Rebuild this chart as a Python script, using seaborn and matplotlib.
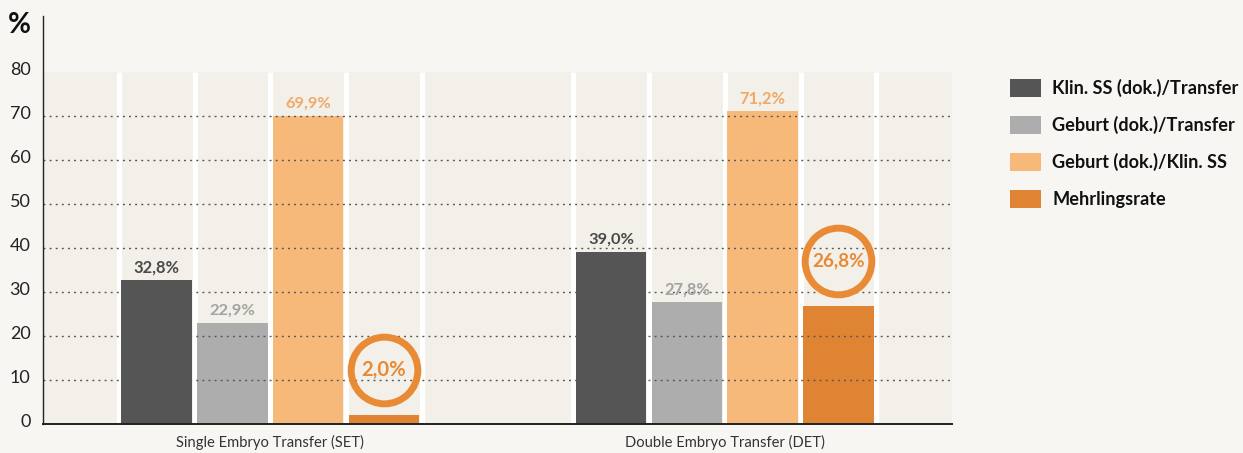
import matplotlib
matplotlib.use("Agg")
import matplotlib.pyplot as plt
import matplotlib.transforms as mtransforms
import seaborn as sns
import pandas as pd

# ---- data ----
groups = ["Single Embryo Transfer (SET)", "Double Embryo Transfer (DET)"]
series = ["Klin. SS (dok.)/Transfer", "Geburt (dok.)/Transfer",
          "Geburt (dok.)/Klin. SS", "Mehrlingsrate"]
set_values = [32.8, 22.9, 69.9, 2.0]
det_values = [39.0, 27.8, 71.2, 26.8]
value_labels_set = ["32,8%", "22,9%", "69,9%", "2,0%"]
value_labels_det = ["39,0%", "27,8%", "71,2%", "26,8%"]
y_ticks = [0, 10, 20, 30, 40, 50, 60, 70, 80]

bar_colors = ["#555555", "#adadad", "#f6b97a", "#df8433"]
label_colors = ["#4a4a4a", "#a3a3a3", "#f0a968", "#e88a35"]
ring_color = "#e98b36"
fig_bg = "#f7f6f2"
col_bg = "#f3f0e9"

rows = []
for g, vals in zip(groups, [set_values, det_values]):
    for s, v in zip(series, vals):
        rows.append({"group": g, "series": s, "value": v})
df = pd.DataFrame(rows)

sns.set_theme(style="white")
FONT = ["Lato", "DejaVu Sans"]
plt.rcParams["font.family"] = FONT

W, H = 1243, 453
fig = plt.figure(figsize=(W / 100, H / 100), dpi=100, facecolor=fig_bg)
ax = fig.add_axes([43 / W, (H - 424) / H, 909 / W, (424 - 16) / H])
ax.set_facecolor(fig_bg)

slot = 1 / 6
sns.barplot(data=df, x="group", y="value", hue="series", order=groups,
            hue_order=series, palette=bar_colors, saturation=1,
            width=4 * slot, gap=5 / 75.67, ax=ax, zorder=3, legend=True,
            linewidth=0, edgecolor="none")

ymax = 92.7
ax.set_xlim(-0.5, 1.5)
ax.set_ylim(0, ymax)

# background panel and white separators
ax.axhspan(0, 80, color=col_bg, zorder=0, lw=0)
seps = []
for c in range(len(groups)):
    for k in (-2, -1, 0, 1, 2):
        seps.append(c + k * slot)
ax.vlines(seps, 0, 80, color="white", lw=3.7, zorder=1)

# dotted gridlines
for yv in y_ticks[1:-1]:
    ax.axhline(yv, color="#555555", lw=1.0, dashes=(1.4, 3.0), zorder=4)

renderer = fig.canvas.get_renderer()


def fit(text, target_px):
    w = text.get_window_extent(renderer).width
    if w > 0:
        text.set_fontsize(text.get_fontsize() * target_px / w)


# value labels and rings
for i, cont in enumerate(ax.containers):
    for j, bar in enumerate(cont):
        xc = bar.get_x() + bar.get_width() / 2
        yt = bar.get_height()
        txt = [value_labels_set, value_labels_det][j][i]
        if i == 3:
            tr = mtransforms.offset_copy(ax.transData, fig=fig, x=0, y=45, units="dots")
            ax.plot([xc], [yt], marker="o", ms=48, mfc="none", mec=ring_color,
                    mew=5.0, transform=tr, zorder=5, clip_on=False)
            t = ax.text(xc, yt, txt, transform=tr, ha="center", va="center",
                        fontsize=14, fontweight="bold", color=label_colors[i], zorder=6)
            fit(t, 45 if j == 0 else 53)
        else:
            tr = mtransforms.offset_copy(ax.transData, fig=fig, x=0, y=12.5, units="dots")
            t = ax.text(xc, yt, txt, transform=tr, ha="center", va="center",
                        fontsize=12, fontweight="bold", color=label_colors[i], zorder=6)
            fit(t, 46)

# axes styling
for s in ["top", "right"]:
    ax.spines[s].set_visible(False)
ax.spines["left"].set_color("#222222")
ax.spines["left"].set_linewidth(1.0)
ax.spines["bottom"].set_color("#222222")
ax.spines["bottom"].set_linewidth(1.4)
ax.spines["left"].set_zorder(7)
ax.spines["bottom"].set_zorder(7)
ax.set_yticks(y_ticks)
ax.set_yticklabels([str(t) for t in y_ticks])
ax.tick_params(axis="y", length=0, pad=10, labelsize=14, labelcolor="#222222")
ax.tick_params(axis="x", length=0, pad=9, labelsize=11, labelcolor="#333333")
ax.set_xlabel("")
ax.set_ylabel("")
fig.canvas.draw()
ylabs = ax.get_yticklabels()
w80 = [t for t in ylabs if t.get_text() == "80"][0].get_window_extent(renderer).width
ysize = 14 * 21 / w80
ax.tick_params(axis="y", labelsize=ysize, pad=9)
ax.set_yticklabels([str(t) for t in y_ticks], va="center")
offs = mtransforms.ScaledTranslation(0, 2 / 100, fig.dpi_scale_trans)
for t in ax.get_yticklabels():
    t.set_transform(t.get_transform() + offs)
xl = ax.get_xticklabels()[0]
xw = xl.get_window_extent(renderer).width
ax.tick_params(axis="x", labelsize=11 * 188 / xw, pad=8)

pct = fig.text(19 / W, 1 - 25 / H, "%", ha="center", va="center", fontsize=16,
               fontweight="bold", color="#111111")
fit(pct, 23)

# legend
handles, labels = ax.get_legend_handles_labels()
if ax.legend_:
    ax.legend_.remove()
probe = fig.text(0, 0, series[0], fontsize=13, fontweight="bold")
pw = probe.get_window_extent(renderer).width
probe.remove()
fs = 13 * 186 / pw
fpx = fs * 100 / 72
leg = fig.legend(handles, labels, loc="upper left",
                 bbox_to_anchor=(1010 / W, 1 - 79 / H), frameon=False,
                 borderpad=0, borderaxespad=0, handlelength=31 / fpx,
                 handleheight=20 / fpx, handletextpad=11 / fpx,
                 labelspacing=(39 - 20) / fpx, prop={"size": fs, "weight": "bold",
                                                     "family": FONT})
for t in leg.get_texts():
    t.set_color("#111111")

fig.savefig("out.png", dpi=100, facecolor=fig_bg)
